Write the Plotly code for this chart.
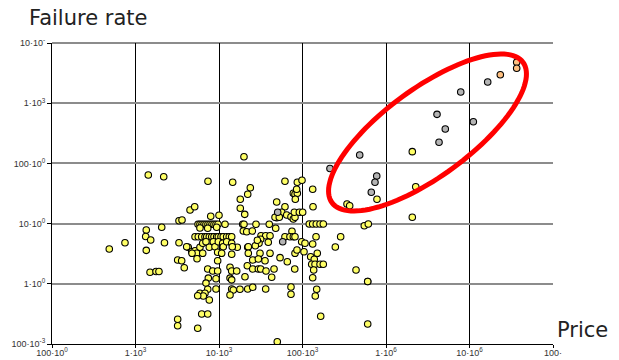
import numpy as np
import plotly.graph_objects as go

# ---- data (log10 of price, log10 of failure rate) ----
yellow_price_log10 = [
    2.686, 2.874, 3.129, 3.122, 3.182, 3.129, 3.153, 3.338, 3.314, 3.347, 3.174, 3.246, 3.281,
    3.505, 3.521, 3.521, 3.505, 3.505, 3.557, 3.653, 3.709, 3.868, 3.901, 4.000, 4.164, 4.299,
    4.375, 4.344, 4.255, 4.255, 4.308, 4.691, 4.691,
    3.749, 3.772, 3.796, 3.820, 3.844, 3.868, 3.892, 3.916, 3.940, 3.964, 3.988, 4.072, 4.284,
    4.299, 4.443, 4.602,
    5.081, 5.122, 5.165, 5.210, 5.249, 5.740, 5.788,
    4.790, 4.938, 4.994, 5.122, 4.890, 4.910, 4.938, 4.930, 4.914, 4.790, 5.126, 4.751, 4.671,
    4.722, 4.811, 4.862, 4.890, 4.910, 4.902, 4.962, 5.002,
    5.892, 5.533, 5.565, 6.315, 6.356, 6.315,
    3.772, 3.865, 3.972, 4.291, 4.332, 4.399, 4.679, 4.874,
    3.713, 3.752, 3.793, 3.832, 3.853, 3.884, 3.913, 3.940, 3.972, 3.992, 4.024, 4.051, 4.092,
    4.123, 4.152, 4.503, 4.559, 4.611, 4.790, 4.850, 4.890, 4.910, 5.162, 5.457,
    4.499, 4.990, 5.030, 5.122, 4.590, 4.479, 4.435, 4.344, 4.219, 5.393, 4.459,
    3.632, 3.673, 3.713, 3.772, 3.805, 3.844, 3.884, 3.932, 3.952, 3.992, 4.044, 4.051, 4.092,
    4.152, 4.159, 3.613, 4.351, 3.733, 3.805, 3.984, 4.032, 4.152, 4.351, 4.491, 4.611, 3.677,
    3.737, 3.553, 3.984, 4.404, 4.471, 4.551, 4.731, 4.818, 4.910, 4.934, 5.018, 5.098, 5.141,
    5.177, 5.110, 5.150, 5.210, 5.249, 5.134, 5.122, 4.907, 5.641, 5.781, 5.781, 4.862, 4.862,
    5.170, 5.153, 5.218, 5.781, 4.698,
    3.584, 3.865, 3.925, 3.984, 4.132, 4.152, 4.212, 4.339, 4.404, 4.471, 4.499, 4.563, 4.659,
    3.872, 3.964, 4.132, 4.152, 4.311, 4.631, 3.844, 3.865, 3.964, 4.152, 4.171, 4.251, 4.344,
    4.404, 4.559, 3.772, 3.832, 3.812, 3.745, 3.884, 4.132, 3.793, 3.865, 3.745,
]
yellow_rate_log10 = [
    0.578, 0.683, 0.894, 0.786, 0.728, 0.556, 1.807, 1.779, 0.939, 0.683, 0.191, 0.204, 0.204,
    0.395, 0.683, 1.048, -0.590, -0.696, 1.060, 1.226, 1.281, 1.703, 1.121, 1.138, 1.686, 2.111,
    1.596, 1.487, 1.404, 1.254, 1.154, 1.359, 1.098,
    0.988, 0.988, 0.988, 0.988, 0.988, 0.988, 0.988, 0.988, 0.988, 0.988, 0.988, 0.988, 0.988,
    0.988, 0.988, 0.988,
    0.993, 0.993, 0.993, 0.993, 0.993, 0.965, 0.993,
    1.703, 1.686, 1.719, 1.570, 1.503, 1.487, 1.503, 1.570, 1.404, 1.281, 1.281, 1.188, 1.105,
    1.105, 1.143, 1.115, 1.076, 1.105, 1.188, 1.188, 1.188,
    1.404, 1.326, 1.297, 2.195, 1.613, 1.105,
    0.927, 0.922, 0.939, 0.877, 0.865, 0.877, 0.922, 0.872,
    0.782, 0.782, 0.782, 0.782, 0.782, 0.782, 0.782, 0.782, 0.782, 0.782, 0.782, 0.782, 0.782,
    0.782, 0.782, 0.799, 0.799, 0.799, 0.782, 0.782, 0.782, 0.782, 0.782, 0.782,
    0.739, 0.699, 0.673, 0.661, 0.689, 0.673, 0.633, 0.606, 0.606, 0.611, 0.723,
    0.606, 0.533, 0.550, 0.606, 0.673, 0.699, 0.606, 0.699, 0.616, 0.699, 0.673, 0.616, 0.699,
    0.673, 0.616, 0.616, 0.616, 0.507, 0.507, 0.523, 0.507, 0.490, 0.507, 0.507, 0.507, 0.507,
    0.417, 0.384, 0.384, 0.395, 0.412, 0.384, 0.434, 0.367, 0.507, 0.561, 0.533, 0.450, 0.407,
    0.507, 0.324, 0.324, 0.324, 0.324, 0.229, 0.101, 0.246, 0.229, 0.038, 0.038, -0.053, -0.174,
    -0.091, -0.203, -0.540, -0.668, -0.962,
    0.267, 0.246, 0.213, 0.213, 0.274, 0.213, 0.213, 0.301, 0.246, 0.246, 0.246, 0.213, 0.246,
    0.095, 0.085, 0.095, 0.066, 0.118, 0.108, 0.012, -0.091, -0.086, -0.086, -0.103, -0.091, -0.086,
    -0.058, -0.086, -0.158, -0.158, -0.203, -0.198, -0.269, -0.186, -0.502, -0.502, -0.739,
]
gray_price_log10 = [5.329, 5.685, 5.889, 5.868, 5.824, 6.611, 6.635, 6.710, 6.895, 7.046, 7.218, 4.703, 4.763]
gray_rate_log10 = [1.915, 2.140, 1.791, 1.686, 1.520, 2.815, 2.351, 2.571, 3.186, 2.693, 3.352, 1.188, 0.699]
orange_price_log10 = [7.369, 7.565, 7.565]
orange_rate_log10 = [3.473, 3.679, 3.580]

x_tick_vals = [1e2, 1e3, 1e4, 1e5, 1e6, 1e7, 1e8]
x_tick_text = ["100·10<sup>0</sup>", "1·10<sup>3</sup>", "10·10<sup>3</sup>", "100·10<sup>3</sup>",
               "1·10<sup>6</sup>", "10·10<sup>6</sup>", "100·"]
y_tick_vals = [1e-1, 1e0, 1e1, 1e2, 1e3, 1e4]
y_tick_text = ["100·10<sup>-3</sup>", "1·10<sup>0</sup>", "10·10<sup>0</sup>", "100·10<sup>0</sup>",
               "1·10<sup>3</sup>", "10·10<sup>-</sup>"]


def marker(fill):
    return dict(size=6.5, color=fill, line=dict(color="#000000", width=1.1))


fig = go.Figure()
for px, py, fill in [
    (yellow_price_log10, yellow_rate_log10, "#FFFF66"),
    (gray_price_log10, gray_rate_log10, "#B4B4B4"),
    (orange_price_log10, orange_rate_log10, "#FFC080"),
]:
    fig.add_trace(go.Scatter(
        x=np.power(10.0, px), y=np.power(10.0, py), mode="markers",
        marker=marker(fill), showlegend=False, hoverinfo="skip",
    ))

# ---- layout geometry ----
W, H = 619, 360
L, R, T, B = 52, 553, 43, 344  # plot area in pixels

shapes = []
# black horizontal gridlines at 10 and 1000 (domain fractions 0.4 and 0.8)
for yd in (0.4, 0.8):
    shapes.append(dict(type="line", xref="x domain", yref="y domain", x0=0, x1=1, y0=yd, y1=yd,
                       line=dict(color="#000000", width=1), layer="below"))
# gray top line
shapes.append(dict(type="line", xref="x domain", yref="y domain", x0=0, x1=1, y0=1, y1=1,
                   line=dict(color="#8c8c8c", width=2), layer="below"))

# red ellipse (drawn in pixel space, converted to domain fractions)
cx, cy, a, b, th = 427.5, 132.5, 118.5, 43.7, np.deg2rad(36.3)
t = np.linspace(0, 2 * np.pi, 121)
ex = cx + a * np.cos(t) * np.cos(th) - b * np.sin(t) * np.sin(th)
ey = cy - (a * np.cos(t) * np.sin(th) + b * np.sin(t) * np.cos(th))
dx = (ex - L) / (R - L)
dy = (B - ey) / (B - T)
path = "M " + " L ".join(f"{u:.4f},{v:.4f}" for u, v in zip(dx, dy)) + " Z"
shapes.append(dict(type="path", xref="x domain", yref="y domain", path=path,
                   line=dict(color="#FF0000", width=5), layer="above"))

tick_font = dict(family="Liberation Sans, Arial, sans-serif", size=9, color="#333333")
label_font = dict(family="DejaVu Sans, Verdana, sans-serif", size=21, color="#222222")

fig.update_layout(
    width=W, height=H,
    margin=dict(l=L, r=W - R, t=T, b=H - B, pad=0, autoexpand=False),
    paper_bgcolor="#FFFFFF", plot_bgcolor="#FFFFFF",
    shapes=shapes,
    xaxis=dict(type="log", range=[2, 8], tickvals=x_tick_vals, ticktext=x_tick_text,
               showgrid=True, gridcolor="#000000", gridwidth=1,
               showline=True, linecolor="#000000", linewidth=1,
               ticks="outside", ticklen=3, tickcolor="#000000", tickfont=tick_font,
               ticklabelstandoff=-3,
               zeroline=False, fixedrange=True, automargin=False),
    yaxis=dict(type="log", range=[-1, 4], tickvals=y_tick_vals, ticktext=y_tick_text,
               showgrid=True, gridcolor="#8c8c8c", gridwidth=2,
               showline=True, linecolor="#000000", linewidth=1,
               ticks="outside", ticklen=4, tickcolor="#000000", tickfont=tick_font,
               zeroline=False, fixedrange=True, automargin=False),
    annotations=[
        dict(text="Failure rate", xref="paper", yref="paper",
             x=(27 - L) / (R - L), y=(B - 18) / (B - T), xanchor="left", yanchor="middle",
             showarrow=False, font=label_font),
        dict(text="Price", xref="paper", yref="paper",
             x=(555 - L) / (R - L), y=(B - 330) / (B - T), xanchor="left", yanchor="middle",
             showarrow=False, font=label_font),
    ],
)

fig.write_html(
    "out.html",
    config={"displayModeBar": False, "staticPlot": True},
    post_script="document.body.style.margin='0px';document.body.style.overflow='hidden';",
)
